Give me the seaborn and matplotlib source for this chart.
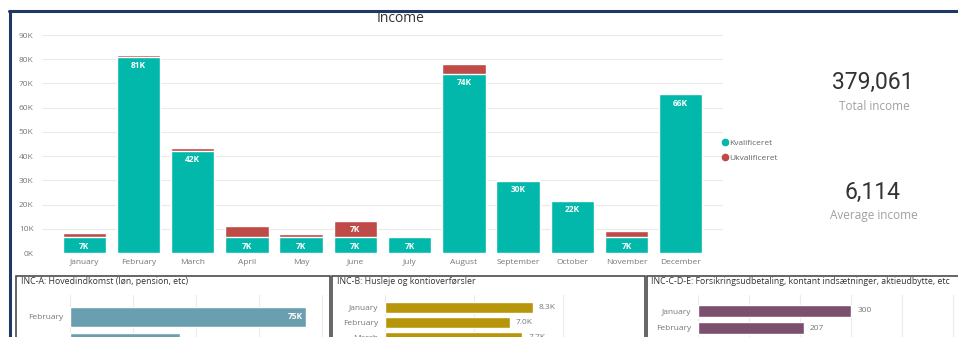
import matplotlib
matplotlib.use("Agg")
import matplotlib.pyplot as plt
from matplotlib.lines import Line2D
from matplotlib.patches import Rectangle
import seaborn as sns
import pandas as pd

# ---------------- data ----------------
months = ["January", "February", "March", "April", "May", "June", "July",
          "August", "September", "October", "November", "December"]
kvalificeret = [6600, 81000, 42200, 6600, 6600, 6600, 6600, 74000, 29800, 21600, 6600, 65600]
ukvalificeret = [1800, 800, 1200, 4600, 1300, 6800, 0, 4200, 500, 200, 2500, 500]
y_ticks = [0, 10000, 20000, 30000, 40000, 50000, 60000, 70000, 80000, 90000]
y_tick_labels = ["0K", "10K", "20K", "30K", "40K", "50K", "60K", "70K", "80K", "90K"]
series_names = ["Kvalificeret", "Ukvalificeret"]

total_income = "379,061"
average_income = "6,114"

inc_a_months = ["February", "March"]
inc_a_values = [75000, 35000]
inc_a_labels = ["75K", "35K"]
inc_b_months = ["January", "February", "March"]
inc_b_values = [8300, 7000, 7700]
inc_b_labels = ["8.3K", "7.0K", "7.7K"]
inc_c_months = ["January", "February"]
inc_c_values = [300, 207]
inc_c_labels = ["300", "207"]

panel_titles = ["INC-A: Hovedindkomst (løn, pension, etc)",
                "INC-B: Husleje og kontioverførsler",
                "INC-C-D-E: Forsikringsudbetaling, kontant indsætninger, aktieudbytte, etc"]

# ---------------- style ----------------
sns.set_style("white")
plt.rcParams["font.family"] = ["Open Sans", "DejaVu Sans"]

TEAL = "#01B8AA"
RED = "#BF4B48"
STEEL = "#6A9FB0"
GOLD = "#B8960C"
PLUM = "#7C4F6F"
GRID = "#EBEBEB"
TICK = "#777777"
NAVY = "#1F3864"

W, H = 958, 337
fig = plt.figure(figsize=(W / 100, H / 100), dpi=100)


def box(x0, y0, x1, y1):
    return [x0 / W, 1 - y1 / H, (x1 - x0) / W, (y1 - y0) / H]


def fx(x):
    return x / W


def fy(y):
    return 1 - y / H


# ---------------- frame ----------------
fig.add_artist(Line2D([fx(9), fx(960)], [fy(10.5), fy(10.5)], color=NAVY, lw=2.2))
fig.add_artist(Line2D([fx(10), fx(10)], [fy(10.5), fy(340)], color=NAVY, lw=2.2))

# ---------------- main chart ----------------
ax = fig.add_axes(box(42, 35, 723, 253))
df = pd.DataFrame({"month": months, "kval": kvalificeret, "ukval": ukvalificeret})
df["total"] = df["kval"] + df["ukval"]
sns.barplot(data=df, x="month", y="total", color=RED, saturation=1, width=0.8, ax=ax, zorder=2)
sns.barplot(data=df, x="month", y="kval", color=TEAL, saturation=1, width=0.8, ax=ax, zorder=3)
ax.set_xlim(-0.78, 11.78)
ax.set_ylim(0, 90000)
ax.set_yticks(y_ticks)
ax.set_yticklabels(y_tick_labels)
ax.set_xlabel("")
ax.set_ylabel("")
ax.tick_params(axis="both", length=0, labelsize=6, labelcolor=TICK)
ax.tick_params(axis="y", pad=6)
ax.tick_params(axis="x", pad=4)
ax.grid(axis="y", color=GRID, lw=0.8, zorder=0)
ax.set_axisbelow(True)
for s in ax.spines.values():
    s.set_visible(False)

for i, (k, u) in enumerate(zip(kvalificeret, ukvalificeret)):
    ax.annotate(f"{round(k / 1000)}K", xy=(i, k), xytext=(0, -6.5), textcoords="offset points",
                ha="center", va="center", fontsize=6, color="white", fontweight="bold", zorder=5)
    if u > 5000:
        ax.annotate(f"{round(u / 1000)}K", xy=(i, k + u), xytext=(0, -6.5), textcoords="offset points",
                    ha="center", va="center", fontsize=6, color="white", fontweight="bold", zorder=5)

fig.text(fx(401), fy(18), "Income", ha="center", va="center", fontsize=10, color="#333333")

handles = [Line2D([], [], marker="o", ls="", color=TEAL, markersize=4.5),
           Line2D([], [], marker="o", ls="", color=RED, markersize=4.5)]
leg = fig.legend(handles, series_names, loc="center left", bbox_to_anchor=(fx(722), fy(150.5)),
                 frameon=False, fontsize=6, handlelength=0.6, handletextpad=0.25,
                 labelspacing=0.85, borderpad=0, borderaxespad=0)
for t in leg.get_texts():
    t.set_color("#666666")

# ---------------- cards ----------------
fig.text(fx(873), fy(82), total_income, ha="center", va="center", fontsize=16.5,
         color="#333333", family=["Roboto", "DejaVu Sans"])
fig.text(fx(874), fy(107), "Total income", ha="center", va="center", fontsize=8.5, color="#A0A0A0")
fig.text(fx(873), fy(192), average_income, ha="center", va="center", fontsize=16.5,
         color="#333333", family=["Roboto", "DejaVu Sans"])
fig.text(fx(874), fy(216), "Average income", ha="center", va="center", fontsize=8.5, color="#A0A0A0")

# ---------------- bottom panels ----------------
panels = [
    dict(x0=16, x1=330, ax_x=(70, 326), scale=(63, 20000), center0=317, step=26, bw=0.77,
         cats=inc_a_months, vals=inc_a_values, labels=inc_a_labels, color=STEEL, inside=True,
         grid=[0, 20000, 40000, 60000, 80000], title_x=21),
    dict(x0=332, x1=645, ax_x=(385, 640), scale=(89, 5000), center0=307.5, step=15, bw=0.73,
         cats=inc_b_months, vals=inc_b_values, labels=inc_b_labels, color=GOLD, inside=False,
         grid=[0, 5000, 10000], title_x=337),
    dict(x0=647, x1=962, ax_x=(698, 955), scale=(51, 100), center0=311, step=17, bw=0.75,
         cats=inc_c_months, vals=inc_c_values, labels=inc_c_labels, color=PLUM, inside=False,
         grid=[0, 100, 200, 300, 400, 500], title_x=651),
]

for p, title in zip(panels, panel_titles):
    fig.add_artist(Rectangle((fx(p["x0"]), fy(345)), fx(p["x1"]) - fx(p["x0"]), fy(275.5) - fy(345),
                             fill=False, edgecolor="#3C3C3C", lw=1.1, transform=fig.transFigure))
    fig.text(fx(p["title_x"]), fy(282), title, ha="left", va="center", fontsize=6.3, color="#333333")

    top, bottom = 295, 400
    a = fig.add_axes(box(p["ax_x"][0], top, p["ax_x"][1], bottom))
    sns.barplot(x=p["vals"], y=p["cats"], orient="h", color=p["color"], saturation=1,
                width=p["bw"], ax=a, zorder=2)
    px, unit = p["scale"]
    a.set_xlim(0, (p["ax_x"][1] - p["ax_x"][0]) / px * unit)
    a.set_ylim((bottom - p["center0"]) / p["step"], (top - p["center0"]) / p["step"])
    a.set_xticks(p["grid"])
    a.set_xticklabels([])
    a.grid(axis="x", color=GRID, lw=0.8, zorder=0)
    a.set_axisbelow(True)
    a.set_xlabel("")
    a.set_ylabel("")
    a.tick_params(axis="both", length=0)
    a.tick_params(axis="y", labelsize=6, labelcolor=TICK, pad=5)
    for s in a.spines.values():
        s.set_visible(False)
    for i, (v, lab) in enumerate(zip(p["vals"], p["labels"])):
        if p["inside"]:
            a.annotate(lab, xy=(v, i), xytext=(-2.5, 0), textcoords="offset points",
                       ha="right", va="center", fontsize=6, color="white", fontweight="bold")
        else:
            a.annotate(lab, xy=(v, i), xytext=(4.5, 0), textcoords="offset points",
                       ha="left", va="center", fontsize=6, color=TICK)

fig.savefig("out.png", dpi=100)
